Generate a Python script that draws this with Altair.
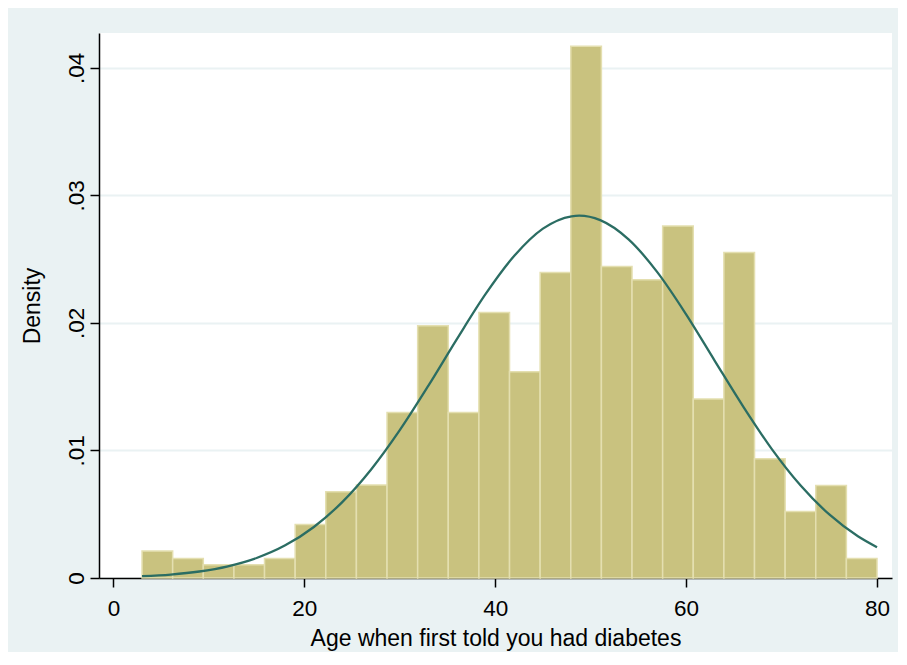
import altair as alt
import pandas as pd

# Histogram bins (age when first told, density)
bin_start = [3.0, 6.208, 9.417, 12.625, 15.833, 19.042, 22.25, 25.458, 28.667, 31.875,
             35.083, 38.292, 41.5, 44.708, 47.917, 51.125, 54.333, 57.542, 60.75, 63.958,
             67.167, 70.375, 73.583, 76.792]
bin_end = [6.208, 9.417, 12.625, 15.833, 19.042, 22.25, 25.458, 28.667, 31.875, 35.083,
           38.292, 41.5, 44.708, 47.917, 51.125, 54.333, 57.542, 60.75, 63.958, 67.167,
           70.375, 73.583, 76.792, 80.0]
density = [0.00211, 0.00153, 0.00104, 0.00104, 0.00153, 0.0042, 0.00676, 0.00729,
           0.01298, 0.01978, 0.01298, 0.02082, 0.01617, 0.02396, 0.04169, 0.02443,
           0.02339, 0.0276, 0.01403, 0.02553, 0.00935, 0.00522, 0.00726, 0.00153]

# Overlaid normal curve
curve_x = [3, 6, 9, 12, 15, 18, 21, 24, 27, 30, 33, 36, 39, 42, 45, 48, 48.8, 51, 54,
           57, 60, 63, 66, 69, 72, 75, 78, 80]
curve_y = [0.00014, 0.00027, 0.00051, 0.00092, 0.00157, 0.00256, 0.0040, 0.00597,
           0.00851, 0.01159, 0.01508, 0.01875, 0.02227, 0.02526, 0.02739, 0.02836,
           0.02841, 0.02806, 0.02653, 0.02396, 0.02067, 0.01703, 0.01342, 0.01009,
           0.00725, 0.00498, 0.00327, 0.00241]

x_ticks = [0, 20, 40, 60, 80]
y_ticks = [0, 0.01, 0.02, 0.03, 0.04]

bars_df = pd.DataFrame({"start": bin_start, "end": bin_end, "density": density})
curve_df = pd.DataFrame({"age": curve_x, "dens": curve_y})

FONT = "Liberation Sans"
BG = "#EAF2F3"

xscale = alt.Scale(domain=[-1.51, 81.57], nice=False, zero=False)
yscale = alt.Scale(domain=[0, 0.04273], nice=False, zero=False)

xaxis = alt.Axis(
    title="Age when first told you had diabetes",
    values=x_ticks, grid=False, domainColor="black", domainWidth=1.5,
    tickColor="black", tickWidth=1.5, tickSize=9, labelFontSize=22.5,
    labelColor="black", labelFont=FONT, labelPadding=10, titleFont=FONT,
    titleFontSize=23, titleFontWeight="normal", titleColor="black",
    titlePadding=8, labelFlush=False,
)
yaxis = alt.Axis(
    title="Density", values=y_ticks,
    labelExpr="datum.value == 0 ? '0' : replace(format(datum.value, '.2f'), '0.', '.')",
    grid=True, gridColor=BG, gridWidth=2, domainColor="black", domainWidth=1.5,
    tickColor="black", tickWidth=1.5, tickSize=9, labelFontSize=22.5,
    labelColor="black", labelFont=FONT, labelAngle=270, labelAlign="center",
    labelBaseline="bottom", labelPadding=2, titleFont=FONT, titleFontSize=23,
    titleFontWeight="normal", titleColor="black", titlePadding=21,
)

bars = alt.Chart(bars_df).mark_rect(
    fill="#C9C27F", stroke="#E4DFB0", strokeWidth=1.5
).encode(
    x=alt.X("start:Q", scale=xscale, axis=xaxis),
    x2="end:Q",
    y=alt.Y("density:Q", scale=yscale, axis=yaxis),
    y2=alt.datum(0),
)

curve = alt.Chart(curve_df).mark_line(
    color="#2B6D63", strokeWidth=2.3, interpolate="monotone"
).encode(
    x=alt.X("age:Q", scale=xscale),
    y=alt.Y("dens:Q", scale=yscale),
)

chart = alt.layer(bars, curve).properties(
    width=793, height=545,
    padding={"left": 91, "top": 25, "right": 6, "bottom": 74},
    autosize=alt.AutoSizeParams(type="none"),
    background=BG,
).configure_view(fill="white", strokeWidth=0)

chart.save("out.html", embed_options={"renderer": "svg", "actions": False})
